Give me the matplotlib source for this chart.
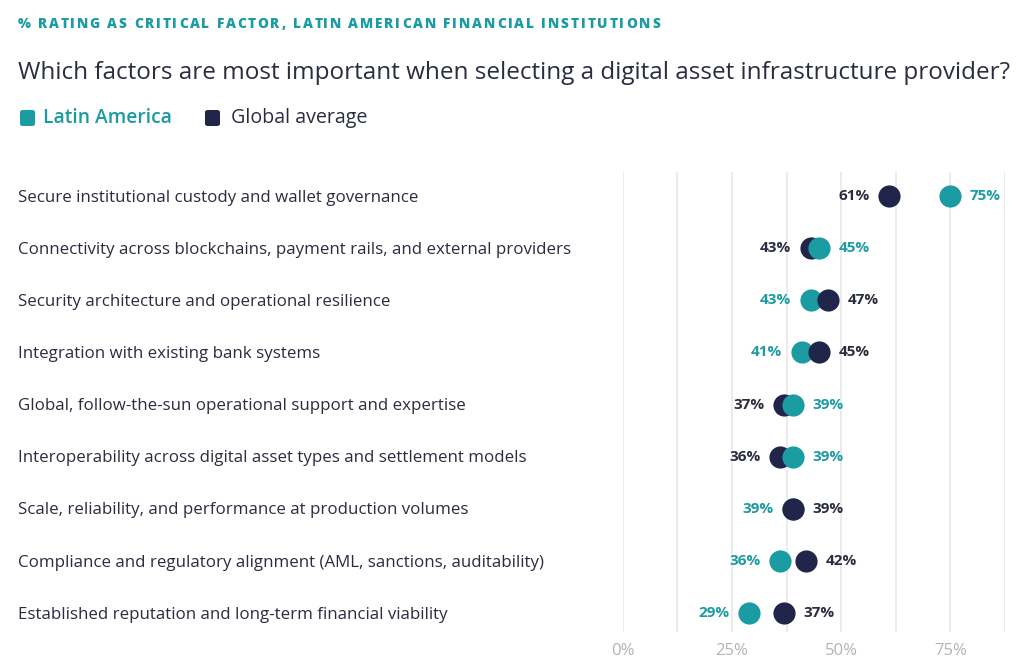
import matplotlib
matplotlib.use("Agg")
import matplotlib.pyplot as plt
from matplotlib.transforms import blended_transform_factory
from matplotlib.patches import FancyBboxPatch
from matplotlib.font_manager import FontProperties

FONT = ['Open Sans', 'DejaVu Sans']
plt.rcParams['font.family'] = FONT

categories = [
    "Secure institutional custody and wallet governance",
    "Connectivity across blockchains, payment rails, and external providers",
    "Security architecture and operational resilience",
    "Integration with existing bank systems",
    "Global, follow-the-sun operational support and expertise",
    "Interoperability across digital asset types and settlement models",
    "Scale, reliability, and performance at production volumes",
    "Compliance and regulatory alignment (AML, sanctions, auditability)",
    "Established reputation and long-term financial viability",
]
latam = [75, 45, 43, 41, 39, 39, 39, 36, 29]
global_avg = [61, 43, 47, 45, 37, 36, 39, 42, 37]
tick_values = [0, 12.5, 25, 37.5, 50, 62.5, 75, 87.5]
tick_labels = {0: "0%", 25: "25%", 50: "50%", 75: "75%"}
subtitle = "% RATING AS CRITICAL FACTOR, LATIN AMERICAN FINANCIAL INSTITUTIONS"
title = "Which factors are most important when selecting a digital asset infrastructure provider?"
series_names = ["Latin America", "Global average"]

TEAL = "#1b9ba2"
NAVY = "#22254a"
GRID = "#ebebed"
TICK = "#b3b3b7"
TEXT = "#2a2d40"

W, H = 1024, 672
fig = plt.figure(figsize=(W / 100, H / 100), dpi=100)
fig.patch.set_facecolor("white")
renderer = fig.canvas.get_renderer()


def fit_size(t, target_px):
    w = t.get_window_extent(renderer).width
    t.set_fontsize(t.get_fontsize() * target_px / w)


left_px, right_px = 622.7, 1005
top_px, bot_px = 172, 632
ax = fig.add_axes([left_px / W, 1 - bot_px / H, (right_px - left_px) / W, (bot_px - top_px) / H])
ax.set_xlim(0, 87.5)
n = len(categories)
ax.set_ylim(n - 1 + 0.36, -0.46)
for s in ax.spines.values():
    s.set_visible(False)
ax.set_yticks([])
ax.set_xticks(tick_values)
ax.set_xticklabels([tick_labels.get(t, "") for t in tick_values], fontsize=12, color=TICK)
ax.tick_params(axis="x", length=0, pad=8)
for t in tick_values:
    ax.axvline(t, color=GRID, lw=1.44, zorder=0)

for i, (la, gl) in enumerate(zip(latam, global_avg)):
    if la > gl:
        zl, zg = 4, 3
        lt, gt = 14, -14
    else:
        zl, zg = 3, 4
        lt, gt = -14, 14
    ax.scatter([la], [i], s=255, color=TEAL, zorder=zl, linewidths=0)
    ax.scatter([gl], [i], s=255, color=NAVY, zorder=zg, linewidths=0)
    ax.annotate(f"{la}%", (la, i), xytext=(lt, 0), textcoords="offset points",
                ha="left" if lt > 0 else "right", va="center", fontsize=11,
                fontweight="bold", color=TEAL, annotation_clip=False)
    ax.annotate(f"{gl}%", (gl, i), xytext=(gt, 0), textcoords="offset points",
                ha="left" if gt > 0 else "right", va="center", fontsize=11,
                fontweight="bold", color=TEXT, annotation_clip=False)

trans = blended_transform_factory(fig.transFigure, ax.transData)
cat_texts = []
for i, c in enumerate(categories):
    cat_texts.append(ax.text(18 / W, i + 0.03, c, transform=trans, ha="left", va="center",
                             fontsize=11.5, color=TEXT))
w_long = cat_texts[1].get_window_extent(renderer).width
scale = (572 - 18) / w_long
for t in cat_texts:
    t.set_fontsize(11.5 * scale)

# tracked subtitle
fp = FontProperties(family=FONT, weight="heavy", size=9.8)


def tw(s):
    w, h, d = renderer.get_text_width_height_descent(s, fp, ismath=False)
    return w


bar_w = tw("|")
nat = [tw(subtitle[:i] + "|") - bar_w for i in range(len(subtitle))]
total_nat = tw(subtitle)
extra = ((660 - 18) - total_nat) / (len(subtitle) - 1)
for i, ch in enumerate(subtitle):
    if ch == " ":
        continue
    fig.text((18 + nat[i] + extra * i) / W, 1 - 24 / H, ch, fontproperties=fp,
             color=TEAL, va="center", ha="left")

tt = fig.text(18 / W, 1 - 73 / H, title, fontsize=16, color=TEXT, va="center", ha="left")
fit_size(tt, 1012 - 18)

# legend
for (x0, col, tcol, label, tx, tx_end) in [(20, TEAL, TEAL, series_names[0], 43, 173),
                                            (205, NAVY, TEXT, series_names[1], 231, 368)]:
    sq = FancyBboxPatch((x0 / W, 1 - 126 / H), 15 / W, 16 / H,
                        boxstyle="round,pad=0,rounding_size=0.003",
                        transform=fig.transFigure, facecolor=col, edgecolor="none")
    fig.patches.append(sq)
    lt_ = fig.text(tx / W, 1 - 118 / H, label, fontsize=14, color=tcol,
                   va="center", ha="left", fontweight="semibold" if col == TEAL else "normal")
    fit_size(lt_, tx_end - tx)

fig.savefig("out.png", dpi=100)
